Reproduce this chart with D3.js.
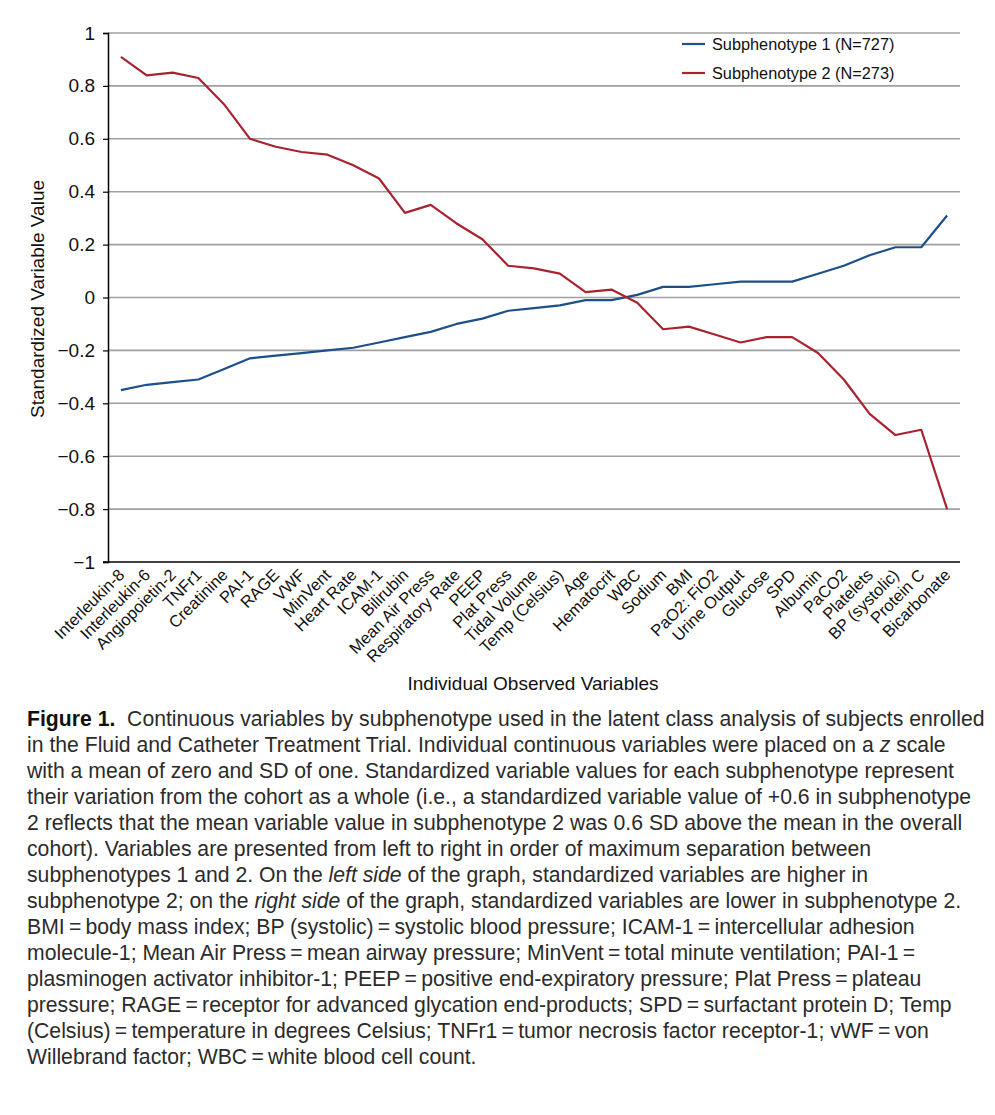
<!DOCTYPE html>
<html><head><meta charset="utf-8">
<script src="https://cdn.jsdelivr.net/npm/d3@7"></script>
<style>body{margin:0;background:#fff} svg{display:block} text{font-family:"Liberation Sans",Arial,Helvetica,sans-serif}</style>
</head><body>
<svg id="chart" width="995" height="1115"></svg>
<script>
const categories = ["Interleukin-8","Interleukin-6","Angiopoietin-2","TNFr1","Creatinine","PAI-1","RAGE","VWF","MinVent","Heart Rate","ICAM-1","Bilirubin","Mean Air Press","Respiratory Rate","PEEP","Plat Press","Tidal Volume","Temp (Celsius)","Age","Hematocrit","WBC","Sodium","BMI","PaO2: FiO2","Urine Output","Glucose","SPD","Albumin","PaCO2","Platelets","BP (systolic)","Protein C","Bicarbonate"];
const subphenotype1 = [-0.35,-0.33,-0.32,-0.31,-0.27,-0.23,-0.22,-0.21,-0.20,-0.19,-0.17,-0.15,-0.13,-0.10,-0.08,-0.05,-0.04,-0.03,-0.01,-0.01,0.01,0.04,0.04,0.05,0.06,0.06,0.06,0.09,0.12,0.16,0.19,0.19,0.31];
const subphenotype2 = [0.91,0.84,0.85,0.83,0.73,0.60,0.57,0.55,0.54,0.50,0.45,0.32,0.35,0.28,0.22,0.12,0.11,0.09,0.02,0.03,-0.02,-0.12,-0.11,-0.14,-0.17,-0.15,-0.15,-0.21,-0.31,-0.44,-0.52,-0.50,-0.80];
const yTicks = [1,0.8,0.6,0.4,0.2,0,-0.2,-0.4,-0.6,-0.8,-1];
const seriesNames = ["Subphenotype 1 (N=727)","Subphenotype 2 (N=273)"];
const seriesColors = ["#1d4f8b","#a8232e"];
const xTitle = "Individual Observed Variables";
const yTitle = "Standardized Variable Value";
const captionLines = [
 [["Figure 1.","b"],["  Continuous variables by subphenotype used in the latent class analysis of subjects enrolled",""]],
 [["in the Fluid and Catheter Treatment Trial. Individual continuous variables were placed on a ",""],["z","i"],[" scale",""]],
 [["with a mean of zero and SD of one. Standardized variable values for each subphenotype represent",""]],
 [["their variation from the cohort as a whole (i.e., a standardized variable value of +0.6 in subphenotype",""]],
 [["2 reflects that the mean variable value in subphenotype 2 was 0.6 SD above the mean in the overall",""]],
 [["cohort). Variables are presented from left to right in order of maximum separation between",""]],
 [["subphenotypes 1 and 2. On the ",""],["left side","i"],[" of the graph, standardized variables are higher in",""]],
 [["subphenotype 2; on the ",""],["right side","i"],[" of the graph, standardized variables are lower in subphenotype 2.",""]],
 [["BMI\u2009=\u2009body mass index; BP (systolic)\u2009=\u2009systolic blood pressure; ICAM-1\u2009=\u2009intercellular adhesion",""]],
 [["molecule-1; Mean Air Press\u2009=\u2009mean airway pressure; MinVent\u2009=\u2009total minute ventilation; PAI-1\u2009=",""]],
 [["plasminogen activator inhibitor-1; PEEP\u2009=\u2009positive end-expiratory pressure; Plat Press\u2009=\u2009plateau",""]],
 [["pressure; RAGE\u2009=\u2009receptor for advanced glycation end-products; SPD\u2009=\u2009surfactant protein D; Temp",""]],
 [["(Celsius)\u2009=\u2009temperature in degrees Celsius; TNFr1\u2009=\u2009tumor necrosis factor receptor-1; vWF\u2009=\u2009von",""]],
 [["Willebrand factor; WBC\u2009=\u2009white blood cell count.",""]]
];

const svg = d3.select("#chart");
const x = d3.scalePoint().domain(categories).range([108,960]).padding(0.5);
const y = d3.scaleLinear().domain([-1,1]).range([562,33]);
const fmt = d => d === 0 ? "0" : (d < 0 ? "\u2212" : "") + d3.format("~g")(Math.abs(d));

// gridlines
svg.append("g").selectAll("line").data(yTicks.filter(d=>d>-1)).join("line")
  .attr("x1",108).attr("x2",960).attr("y1",d=>y(d)).attr("y2",d=>y(d))
  .attr("stroke","#a0a0a0").attr("stroke-width",1.6);

// y axis
const ya = svg.append("g").attr("transform","translate(108,0)")
  .call(d3.axisLeft(y).tickValues(yTicks).tickFormat(fmt).tickSize(5).tickPadding(8));
ya.select(".domain").attr("stroke","#000").attr("stroke-width",1.5);
ya.selectAll(".tick line").attr("stroke","#000").attr("stroke-width",1.2);
ya.selectAll("text").attr("font-size",19).attr("fill","#111");

// x axis
const xa = svg.append("g").attr("transform","translate(0,562)")
  .call(d3.axisBottom(x).tickSize(0).tickPadding(0));
xa.select(".domain").remove();
svg.append("line").attr("x1",103).attr("x2",960).attr("y1",y(-1)).attr("y2",y(-1))
  .attr("stroke","#000").attr("stroke-width",1.5);
xa.selectAll("text").attr("font-size",16.5).attr("fill","#111")
  .attr("text-anchor","end").attr("dy",null).attr("y",0)
  .attr("transform","translate(4,14) rotate(-45)");

// lines
const line = d3.line().x((d,i)=>x(categories[i])).y(d=>y(d));
[subphenotype1, subphenotype2].forEach((s,k)=>{
  svg.append("path").datum(s).attr("d",line).attr("fill","none")
    .attr("stroke",seriesColors[k]).attr("stroke-width",2.2).attr("stroke-linejoin","round");
});

// legend
const lg = svg.append("g");
seriesNames.forEach((n,k)=>{
  const yy = 44 + k*29;
  lg.append("line").attr("x1",682).attr("x2",705).attr("y1",yy).attr("y2",yy)
    .attr("stroke",seriesColors[k]).attr("stroke-width",2.2);
  lg.append("text").attr("x",712).attr("y",yy).attr("dy","0.35em")
    .attr("font-size",16.3).attr("fill","#111").text(n);
});

// titles
svg.append("text").attr("x",533).attr("y",690).attr("text-anchor","middle")
  .attr("font-size",19).attr("fill","#111").text(xTitle);
svg.append("text").attr("transform","translate(44,299) rotate(-90)").attr("text-anchor","middle")
  .attr("font-size",19).attr("fill","#111").text(yTitle);

// caption
const cap = svg.append("g").attr("fill","#2b2b2b").attr("font-size",21.2);
captionLines.forEach((parts,i)=>{
  const t = cap.append("text").attr("x",27).attr("y",726 + i*26).style("white-space","pre");
  parts.forEach(([s,st])=>{
    const ts = t.append("tspan").text(s);
    if(st==="b") ts.attr("font-weight","bold").attr("fill","#111");
    if(st==="i") ts.attr("font-style","italic");
  });
});
</script>
</body></html>
